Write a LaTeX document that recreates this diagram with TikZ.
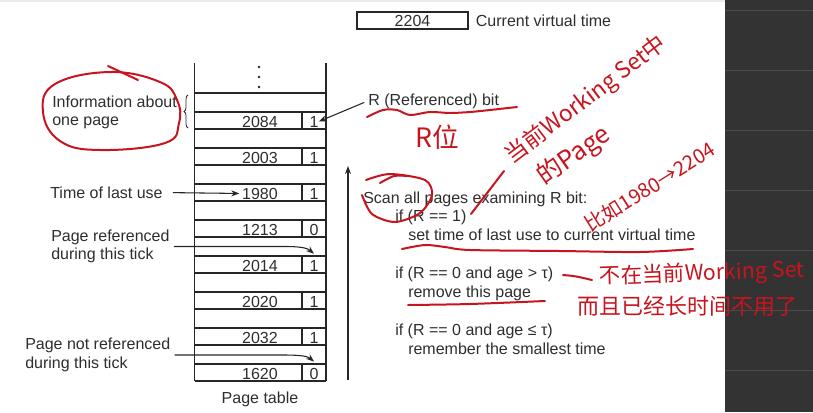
\documentclass[tikz,border=0pt]{standalone}
\usepackage{fontspec}
\setmainfont{Liberation Sans}
\newfontfamily\cjk{Noto Sans CJK SC}
\usetikzlibrary{positioning, arrows.meta, decorations.pathreplacing}
\definecolor{mText}{HTML}{2E2E2E}
\definecolor{mLine}{HTML}{262626}
\definecolor{mRed}{HTML}{C8141E}
\definecolor{mPanel}{HTML}{333333}
\definecolor{mPanelLine}{HTML}{4C4C4C}

\begin{document}
\begin{tikzpicture}[
  x=0.75pt, y=-0.75pt,
  txt/.style={font=\fontsize{12}{14}\selectfont, text=mText, inner sep=0pt},
  lbl/.style={txt, align=left, anchor=west},
  code/.style={txt, anchor=base west},
  cell/.style={txt, anchor=base},
  thinrule/.style={draw=mLine, line width=0.8pt},
  thickrule/.style={draw=mLine, line width=1.6pt},
  arr/.style={draw=mLine, line width=0.8pt, -{Stealth[length=6pt, width=4.5pt]}},
  pen/.style={draw=mRed, line width=1.5pt, line cap=round, line join=round},
  hand/.style={text=mRed, font=\cjk\fontsize{#1}{#1}\selectfont, inner sep=0pt},
]
  \useasboundingbox (0,0) rectangle (813,412);
  \fill[white] (0,0) rectangle (813,412);
  \fill[black!8] (0,0) rectangle (725,1.5);
  \fill[mPanel] (725,0) rectangle (813,412);
  \foreach \y in {10,70,...,370}
    \draw[mPanelLine, line width=0.75pt] (725,\y) -- (813,\y);

  \node[txt, draw=mLine, line width=1pt, minimum width=83.25pt, minimum height=12.75pt] (now) at (412.5,20.5) {2204};
  \node[lbl, right=5.25pt of now] (nowlbl) {Current virtual time};

  \draw[thinrule] (194.5,63) -- (194.5,381) (326,63) -- (326,381);
  \foreach \y in {67,77,87}
    \fill[mLine] (259,\y) circle (1.4);
  \foreach \t/\b [count=\i from 0] in {2084/1, 2003/1, 1980/1, 1213/0, 2014/1, 2020/1, 2032/1, 1620/0} {
    \pgfmathsetmacro\ytop{93+36*\i}
    \draw[thickrule] (194.5,\ytop) -- (326,\ytop);
    \draw[thinrule] (194.5,\ytop+19) -- (326,\ytop+19) (302,\ytop+19) -- (302,\ytop+36);
    \node[cell] (t\t) at (260,\ytop+34) {\t};
    \node[cell] (b\t) at (314,\ytop+34) {\b};
  }
  \draw[thickrule] (194.5,381) -- (326,381);
  \node[txt, anchor=base] (ptable) at (260,403) {Page table};

  \node[lbl] (info) at (52,112.5) {Information about\\one page};
  \draw[mLine, line width=0.6pt, decorate, decoration={brace, amplitude=3pt}] (188,128) -- (188,95);
  \node[lbl] (lastuse) at (50,192.5) {Time of last use};
  \node[lbl] (refd) at (51,246.5) {Page referenced\\during this tick};
  \node[lbl] (notrefd) at (25,355) {Page not referenced\\during this tick};
  \node[code] (rbit) at (368,105) {R (Referenced) bit};

  \draw[arr, shorten <=7.5pt, shorten >=2pt] (lastuse.east) -- (t1980.west);
  \draw[arr, shorten <=3pt] (rbit.west) -- (b2084.east);
  \draw[arr, shorten <=3pt] (refd.east) -- ++(115,0) .. controls ++(19,0) and ++(-6,-5) .. ([yshift=4.5pt]b2014.north);
  \draw[arr, shorten <=3pt] (notrefd.east) -- ++(113,0) .. controls ++(19,0) and ++(-6,-5) .. ([yshift=4.5pt]b1620.north);

  \coordinate (scanlow) at (348,380);
  \coordinate (scanhigh) at (348,166);
  \draw[arr, line width=1pt] (scanlow) -- (scanhigh);
  \node[code] (scan) at (363,203) {Scan all pages examining R bit:};
  \node[code] (ifone) at (395,221) {if (R == 1)};
  \node[code] (settime) at (408,240) {set time of last use to current virtual time};
  \node[code] (ifold) at (395,278) {if (R == 0 and age > τ)};
  \node[code] (remove) at (408,297) {remove this page};
  \node[code] (ifyoung) at (395,335) {if (R == 0 and age ≤ τ)};
  \node[code] (smallest) at (408,354) {remember the smallest time};

  \draw[pen] plot[smooth cycle, tension=0.7] coordinates {(110,72) (160,82) (177,100) (179,123) (165,143) (100,150) (60,141) (43,112) (55,84)};
  \draw[pen] (108,66) -- (138,80);
  \draw[pen] plot[smooth] coordinates {(367,117) (383,110) (397,110) (410,115) (430,112) (450,113) (470,112) (490,110) (517,107)};
  \node[hand=20] (rwei) at (437,137) {R位};
  \node[hand=17, rotate=37] (wsnote) at (586,100) {当前Working Set中};
  \node[hand=19, rotate=35] (pagenote) at (574,156) {的Page};
  \draw[pen] plot[smooth] coordinates {(366,180) (390,174) (425,180) (432,195) (420,213) (395,222) (372,214) (362,195)};
  \draw[pen] plot[smooth] coordinates {(380,183) (394,176) (407,176)};
  \draw[pen] (471,214) -- (504,171);
  \node[hand=15, rotate=32] (egnote) at (650,187) {比如1980→2204};
  \draw[pen] plot[smooth] coordinates {(402,249) (425,245) (445,247) (470,250) (560,251) (640,252) (693,249)};
  \draw[pen] plot[smooth] coordinates {(408,305) (470,304) (545,301)};
  \draw[pen] (563,275) .. controls (575,276) .. (592,280);
  \node[hand=16, rotate=2] (notinws) at (702,274) {不在当前Working Set};
  \node[hand=16.5] (unused) at (687,306) {而且已经长时间不用了};
\end{tikzpicture}
\end{document}
